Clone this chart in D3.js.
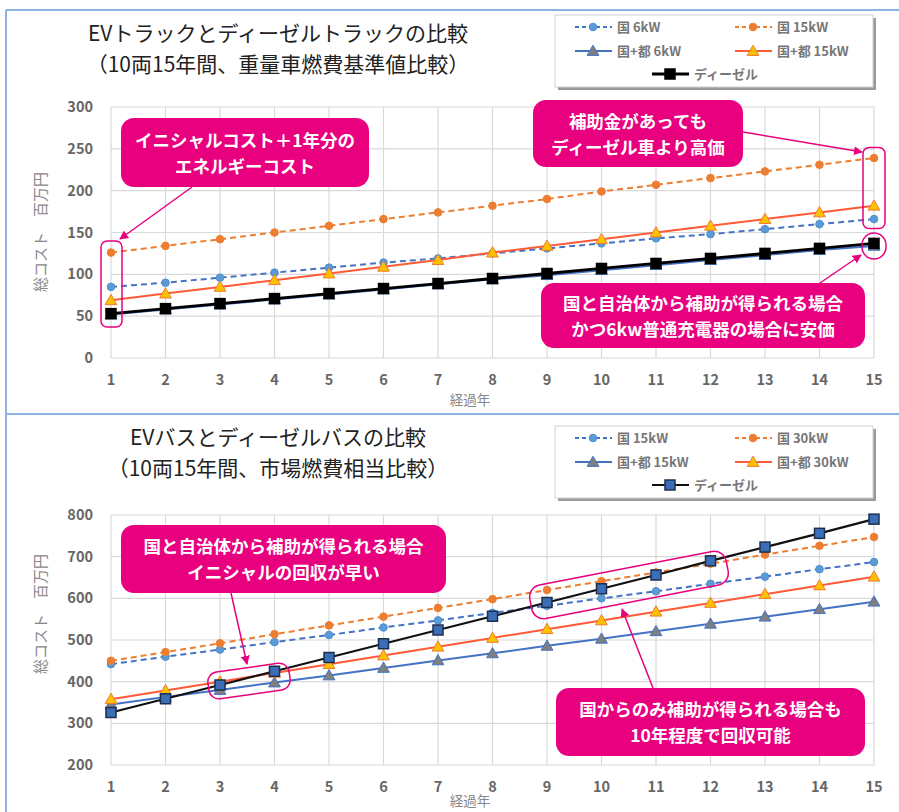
<!DOCTYPE html>
<html>
<head>
<meta charset="utf-8">
<script src="https://cdn.jsdelivr.net/npm/d3@7"></script>
<style>
  body { margin: 0; background: #fff; }
  text { font-family: "Noto Sans CJK JP", "Noto Sans", sans-serif; }
</style>
</head>
<body>
<svg id="chart" width="899" height="812"></svg>
<script>
// years on the x axis
const years = [1, 2, 3, 4, 5, 6, 7, 8, 9, 10, 11, 12, 13, 14, 15];

// truck panel (百万円)
const truckKuni6 = [85, 90, 96, 102, 108, 114, 119, 125, 131, 137, 143, 148, 154, 160, 166];
const truckKuni15 = [126, 134, 142, 150, 158, 166, 174, 182, 190, 199, 207, 215, 223, 231, 239];
const truckKuniTo6 = [52, 58, 64, 70, 76, 82, 88, 94, 99, 105, 111, 117, 123, 129, 134];
const truckKuniTo15 = [69, 77, 85, 93, 101, 109, 117, 126, 134, 142, 150, 158, 166, 174, 182];
const truckDiesel = [53, 59, 65, 71, 77, 83, 89, 95, 101, 107, 113, 119, 125, 131, 137];
const truckTicks = [0, 50, 100, 150, 200, 250, 300];

// bus panel (百万円)
const busKuni15 = [442, 460, 477, 495, 512, 530, 547, 565, 582, 600, 617, 635, 652, 670, 687];
const busKuni30 = [450, 471, 492, 514, 535, 556, 577, 598, 620, 641, 662, 683, 705, 726, 747];
const busKuniTo15 = [345, 363, 380, 398, 415, 433, 451, 468, 486, 503, 521, 539, 556, 574, 592];
const busKuniTo30 = [358, 379, 400, 421, 442, 463, 484, 505, 526, 547, 568, 589, 610, 631, 652];
const busDiesel = [326, 359, 392, 425, 458, 491, 524, 557, 590, 623, 656, 690, 723, 756, 790];
const busTicks = [200, 300, 400, 500, 600, 700, 800];

const BLUE = "#4472c4", ORANGE = "#ed7d31", RED = "#ff5a36", PINK = "#e8007f";

const svg = d3.select("#chart");
svg.append("rect").attr("width", 899).attr("height", 812).attr("fill", "#fff");

// frame lines
const frame = (x1, y1, x2, y2) => svg.append("line")
  .attr("x1", x1).attr("y1", y1).attr("x2", x2).attr("y2", y2)
  .style("stroke", "#8db3e2").style("stroke-width", 2);
frame(6, 10, 899, 10);
frame(6, 10, 6, 812);
frame(6, 414, 899, 414);

const marker = (g, type, x, y, fill, stroke) => {
  if (type === "circle") {
    g.append("circle").attr("cx", x).attr("cy", y).attr("r", 3.8)
      .attr("fill", fill).attr("stroke", stroke).attr("stroke-width", 1);
  } else if (type === "tri") {
    g.append("path").attr("d", d3.symbol(d3.symbolTriangle, 60)())
      .attr("transform", `translate(${x},${y + 1})`)
      .attr("fill", fill).attr("stroke", stroke).attr("stroke-width", 1);
  } else {
    g.append("rect").attr("x", x - 5).attr("y", y - 5).attr("width", 10).attr("height", 10)
      .attr("fill", fill).attr("stroke", stroke).attr("stroke-width", 1.5);
  }
};

function panel(p) {
  const x = d3.scaleLinear().domain([1, 15]).range([111, 874]);
  const y = d3.scaleLinear().domain(p.domain).range([p.bottom, p.top]);
  const g = svg.append("g");

  // titles
  p.title.forEach((t, i) => g.append("text").attr("x", 278).attr("y", p.titleY + i * 31)
    .attr("text-anchor", "middle").attr("font-size", 21).attr("fill", "#222").text(t));

  // grid
  g.append("g").selectAll("line").data(p.ticks).join("line")
    .attr("x1", x(1)).attr("x2", x(15)).attr("y1", d => y(d)).attr("y2", d => y(d))
    .style("stroke", "#d9d9d9").style("stroke-width", 1.2);
  g.append("g").selectAll("line").data(years).join("line")
    .attr("x1", d => x(d)).attr("x2", d => x(d)).attr("y1", y(p.domain[0])).attr("y2", y(p.domain[1]))
    .style("stroke", "#d9d9d9").style("stroke-width", 1.2);

  // axes labels
  g.append("g").selectAll("text").data(p.ticks).join("text")
    .attr("x", 93).attr("y", d => y(d) + 5).attr("text-anchor", "end")
    .attr("font-size", 14.5).attr("font-weight", 600).attr("fill", "#666").text(d => d);
  g.append("g").selectAll("text").data(years).join("text")
    .attr("x", d => x(d)).attr("y", p.bottom + 27).attr("text-anchor", "middle")
    .attr("font-size", 14.5).attr("font-weight", 600).attr("fill", "#666").text(d => d);
  g.append("text").attr("x", 470).attr("y", p.xlabelY).attr("text-anchor", "middle")
    .attr("font-size", 13.5).attr("fill", "#888").text("経過年");
  g.append("text").attr("transform", `translate(46,${p.ylabelY}) rotate(-90)`)
    .attr("text-anchor", "middle").attr("font-size", 15).attr("fill", "#888")
    .text("総コスト　百万円");

  // series
  const line = d3.line().x((d, i) => x(years[i])).y(d => y(d));
  p.series.forEach(s => {
    g.append("path").datum(s.values).attr("d", line).attr("fill", "none")
      .style("stroke", s.color).style("stroke-width", s.width || 2)
      .style("stroke-dasharray", s.dash ? "6,4" : null);
    s.values.forEach((v, i) => marker(g, s.marker, x(years[i]), y(v), s.mfill, s.mstroke));
  });

  // legend
  const lg = g.append("g").attr("transform", `translate(555,${p.legendY})`);
  lg.append("rect").attr("x", 3).attr("y", 3).attr("width", 318).attr("height", 72).attr("fill", "#9a9a9a");
  lg.append("rect").attr("width", 318).attr("height", 72).attr("fill", "#fff").attr("stroke", "#d0d0d0");
  const pos = [[20, 12], [180, 12], [20, 36], [180, 36], [97, 59]];
  p.series.forEach((s, i) => {
    const [lx, ly] = pos[i];
    lg.append("line").attr("x1", lx).attr("x2", lx + 37).attr("y1", ly).attr("y2", ly)
      .style("stroke", s.color).style("stroke-width", s.width || 2)
      .style("stroke-dasharray", s.dash ? "4,3" : null);
    marker(lg, s.marker, lx + 18, ly, s.mfill, s.mstroke);
    lg.append("text").attr("x", lx + 42).attr("y", ly + 5).attr("font-size", 13)
      .attr("font-weight", 600).attr("fill", "#777").text(s.name);
  });

  // callouts
  p.callouts.forEach(c => {
    if (c.hl) {
      g.append("rect").attr("x", -c.hl.w / 2).attr("y", -c.hl.h / 2)
        .attr("width", c.hl.w).attr("height", c.hl.h).attr("rx", c.hl.r).attr("fill", "none")
        .attr("transform", `translate(${c.hl.cx},${c.hl.cy}) rotate(${c.hl.a || 0})`)
        .style("stroke", PINK).style("stroke-width", 1.5);
    }
    g.append("line").attr("x1", c.arrow[0]).attr("y1", c.arrow[1])
      .attr("x2", c.arrow[2]).attr("y2", c.arrow[3])
      .style("stroke", PINK).style("stroke-width", 1.5).attr("marker-end", "url(#arrow)");
    g.append("rect").attr("x", c.box[0]).attr("y", c.box[1]).attr("width", c.box[2]).attr("height", c.box[3])
      .attr("rx", 13).attr("fill", PINK);
    c.text.forEach((t, i) => g.append("text").attr("x", c.box[0] + c.box[2] / 2)
      .attr("y", c.box[1] + c.box[3] / 2 - 6 + i * 26).attr("text-anchor", "middle")
      .attr("font-size", 17.5).attr("font-weight", 600).attr("fill", "#fff").text(t));
  });
}

svg.append("defs").append("marker").attr("id", "arrow").attr("viewBox", "0 0 10 10")
  .attr("refX", 9).attr("refY", 5).attr("markerWidth", 9).attr("markerHeight", 9)
  .attr("markerUnits", "userSpaceOnUse").attr("orient", "auto")
  .append("path").attr("d", "M0,0L10,5L0,10z").attr("fill", PINK);

panel({
  domain: [0, 300], top: 107, bottom: 358, ticks: truckTicks, titleY: 41, ylabelY: 232, legendY: 15, xlabelY: 405,
  title: ["EVトラックとディーゼルトラックの比較", "（10両15年間、重量車燃費基準値比較）"],
  series: [
    { name: "国 6kW", values: truckKuni6, color: BLUE, dash: true, marker: "circle", mfill: "#5b9bd5", mstroke: "#4f8fd0" },
    { name: "国 15kW", values: truckKuni15, color: ORANGE, dash: true, marker: "circle", mfill: ORANGE, mstroke: ORANGE },
    { name: "国+都 6kW", values: truckKuniTo6, color: BLUE, marker: "tri", mfill: "#7f7f7f", mstroke: BLUE },
    { name: "国+都 15kW", values: truckKuniTo15, color: RED, marker: "tri", mfill: "#ffc000", mstroke: ORANGE },
    { name: "ディーゼル", values: truckDiesel, color: "#000", width: 2.8, marker: "sq", mfill: "#000", mstroke: "#000" }
  ],
  callouts: [
    { box: [121, 118, 248, 69], text: ["イニシャルコスト＋1年分の", "エネルギーコスト"],
      arrow: [192, 187, 120, 239], hl: { cx: 111.5, cy: 284, w: 21, h: 86, r: 6 } },
    { box: [533, 100, 210, 67], text: ["補助金があっても", "ディーゼル車より高価"],
      arrow: [743, 132, 862, 152], hl: { cx: 874, cy: 188, w: 22, h: 81, r: 6 } },
    { box: [541, 283, 324, 65], text: ["国と自治体から補助が得られる場合", "かつ6kw普通充電器の場合に安価"],
      arrow: [820, 283, 861, 255], hl: { cx: 874, cy: 246, w: 24, h: 26, r: 12 } }
  ]
});

panel({
  domain: [200, 800], top: 515, bottom: 765, ticks: busTicks, titleY: 445, ylabelY: 614, legendY: 426, xlabelY: 806,
  title: ["EVバスとディーゼルバスの比較", "（10両15年間、市場燃費相当比較）"],
  series: [
    { name: "国 15kW", values: busKuni15, color: BLUE, dash: true, marker: "circle", mfill: "#5b9bd5", mstroke: "#4f8fd0" },
    { name: "国 30kW", values: busKuni30, color: ORANGE, dash: true, marker: "circle", mfill: ORANGE, mstroke: ORANGE },
    { name: "国+都 15kW", values: busKuniTo15, color: BLUE, marker: "tri", mfill: "#7f7f7f", mstroke: BLUE },
    { name: "国+都 30kW", values: busKuniTo30, color: RED, marker: "tri", mfill: "#ffc000", mstroke: ORANGE },
    { name: "ディーゼル", values: busDiesel, color: "#111", width: 2.2, marker: "sq", mfill: "#3a6fb8", mstroke: "#1f2f4f" }
  ],
  callouts: [
    { box: [121, 525, 325, 68], text: ["国と自治体から補助が得られる場合", "イニシャルの回収が早い"],
      arrow: [231, 593, 247, 664], hl: { cx: 249, cy: 681, w: 82, h: 27, r: 10, a: -8 } },
    { box: [556, 688, 309, 68], text: ["国からのみ補助が得られる場合も", "10年程度で回収可能"],
      arrow: [653, 688, 622, 609], hl: { cx: 629, cy: 585, w: 200, h: 34, r: 12, a: -11 } }
  ]
});
</script>
</body>
</html>
